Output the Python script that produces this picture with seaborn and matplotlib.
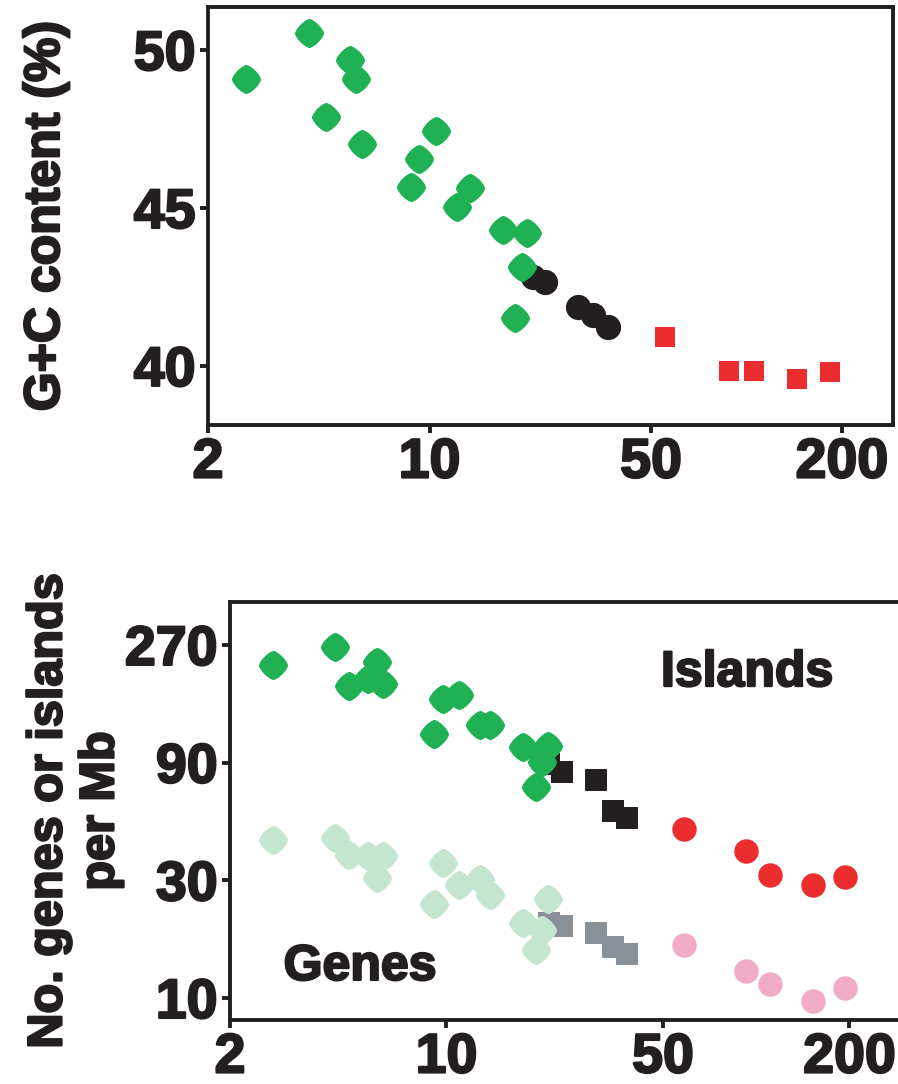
import numpy as np
import pandas as pd
import matplotlib
matplotlib.use("Agg")
import matplotlib.pyplot as plt
import matplotlib.patheffects as pe
from matplotlib.ticker import FixedLocator, FixedFormatter, NullLocator
import seaborn as sns

# ---- Top panel: G+C content vs chromosome size (Mb) ----
micro_size_gc = [2.64, 4.17, 4.71, 5.61, 5.86, 6.12, 8.73, 9.27, 10.5, 12.2, 13.4,
                 17.0, 18.6, 19.6, 20.3]
micro_gc = [49.08, 50.54, 47.88, 49.68, 49.08, 47.03, 45.66, 46.55, 47.44, 45.03,
            45.63, 44.30, 41.52, 43.13, 44.21]
inter_size_gc = [21.2, 23.1, 29.4, 32.8, 36.5]
inter_gc = [42.82, 42.66, 41.87, 41.61, 41.23]
macro_size_gc = [55.3, 88.0, 105.6, 144.0, 183.0]
macro_gc = [40.92, 39.84, 39.84, 39.59, 39.81]

# ---- Bottom panel: genes / CpG islands per Mb vs chromosome size ----
micro_size = [2.75, 4.36, 4.85, 5.6, 5.96, 6.23, 9.1, 9.73, 11.0, 12.8, 13.8,
              17.6, 19.4, 20.4, 21.2]
micro_islands = [223.7, 264.7, 183.8, 196.0, 230.0, 187.2, 117.3, 162.7, 168.9,
                 127.6, 127.6, 104.0, 71.4, 90.2, 104.8]
micro_genes = [43.5, 44.7, 38.1, 37.5, 30.7, 37.5, 24.1, 35.1, 28.8, 30.4, 26.2,
               20.2, 15.7, 18.9, 25.3]
inter_size = [21.4, 23.6, 30.3, 34.4, 38.4]
inter_islands = [88.5, 82.2, 76.2, 57.5, 53.9]
inter_genes = [20.2, 19.6, 18.4, 16.1, 15.1]
macro_size = [58.3, 93.0, 110.5, 153.0, 193.0]
macro_islands = [48.2, 39.6, 31.6, 28.8, 31.0]
macro_genes = [16.4, 12.9, 11.4, 9.72, 10.98]

x_ticks = [2, 10, 50, 200]
gc_ticks = [40, 45, 50]
density_ticks = [10, 30, 90, 270]

GREEN = "#1FB153"
LIGHT_GREEN = "#C4E6D0"
BLACK = "#231F20"
GRAY = "#8A9097"
RED = "#EC2D2F"
PINK = "#F0ABC6"

# heavier lettering
HEAVY = [pe.withStroke(linewidth=1.6, foreground=BLACK)]

# rounded diamond marker (superellipse)
t = np.linspace(0, 2 * np.pi, 120)
p = 1.4
dx = np.sign(np.cos(t)) * np.abs(np.cos(t)) ** (2 / p)
dy = np.sign(np.sin(t)) * np.abs(np.sin(t)) ** (2 / p)
DIAMOND = list(zip(dx, dy))

sns.set_theme(style="white")
plt.rcParams["font.family"] = ["Liberation Sans", "DejaVu Sans"]
plt.rcParams["font.weight"] = "bold"

W, H = 898, 1084
fig = plt.figure(figsize=(W / 100, H / 100), dpi=100)
fig.patch.set_facecolor("white")

ax1 = fig.add_axes([208 / W, 1 - 425 / H, 685 / W, 418 / H])
ax2 = fig.add_axes([230 / W, 1 - 1020 / H, 674 / W, 418 / H])

def frame(ax):
    for s in ax.spines.values():
        s.set_visible(True)
        s.set_color(BLACK)
        s.set_linewidth(2.8)
    ax.set_xscale("log")
    ax.tick_params(axis="both", which="major", direction="out", length=6,
                   width=2.8, color=BLACK, labelsize=40, labelcolor=BLACK,
                   pad=3, left=True, bottom=True)
    ax.xaxis.set_major_locator(FixedLocator(x_ticks))
    ax.xaxis.set_major_formatter(FixedFormatter([str(v) for v in x_ticks]))
    ax.xaxis.set_minor_locator(NullLocator())
    ax.grid(False)
    ax.set_facecolor("white")

frame(ax1)
frame(ax2)

def draw(ax, x, y, color, marker, size):
    df = pd.DataFrame({"size": x, "value": y})
    sns.scatterplot(data=df, x="size", y="value", ax=ax, color=color,
                    marker=marker, s=size, linewidth=0, legend=False, zorder=3)

# top panel
draw(ax1, macro_size_gc, macro_gc, RED, "s", 228)
draw(ax1, inter_size_gc, inter_gc, BLACK, "o", 330)
draw(ax1, micro_size_gc, micro_gc, GREEN, DIAMOND, 440)
ax1.set_xlim(2, 290)
ax1.set_ylim(38.13, 51.36)
ax1.yaxis.set_major_locator(FixedLocator(gc_ticks))
ax1.yaxis.set_major_formatter(FixedFormatter([str(v) for v in gc_ticks]))
ax1.set_xlabel("")
ax1.set_ylabel("G+C content (%)", fontsize=36, fontweight="bold", color=BLACK,
               ha="center", va="center")
ax1.yaxis.set_label_coords((46 - 208) / 685, 0.5)

# bottom panel
ax2.set_yscale("log")
draw(ax2, inter_size, inter_genes, GRAY, "s", 250)
draw(ax2, macro_size, macro_genes, PINK, "o", 310)
draw(ax2, micro_size, micro_genes, LIGHT_GREEN, DIAMOND, 440)
draw(ax2, inter_size, inter_islands, BLACK, "s", 250)
draw(ax2, macro_size, macro_islands, RED, "o", 310)
draw(ax2, micro_size, micro_islands, GREEN, DIAMOND, 440)
ax2.set_xlim(2, 300)
ax2.set_ylim(8.14, 403)
ax2.yaxis.set_major_locator(FixedLocator(density_ticks))
ax2.yaxis.set_major_formatter(FixedFormatter([str(v) for v in density_ticks]))
ax2.yaxis.set_minor_locator(NullLocator())
ax2.set_xlabel("")
ax2.set_ylabel("No. genes or islands\nper Mb", fontsize=35, fontweight="bold",
               color=BLACK, ha="center", va="center", linespacing=1.2)
ax2.yaxis.set_label_coords((75 - 230) / 674, 0.5)

ax2.text(0.767, 0.830, "Islands", transform=ax2.transAxes, fontsize=36,
         fontweight="bold", color=BLACK, ha="center", va="center",
         path_effects=HEAVY)
ax2.text(0.193, 0.127, "Genes", transform=ax2.transAxes, fontsize=36,
         fontweight="bold", color=BLACK, ha="center", va="center",
         path_effects=HEAVY)

for ax in (ax1, ax2):
    for lbl in ax.get_xticklabels() + ax.get_yticklabels():
        lbl.set_path_effects(HEAVY)
    ax.yaxis.label.set_path_effects(HEAVY)

fig.savefig("out.png", dpi=100, facecolor="white")
